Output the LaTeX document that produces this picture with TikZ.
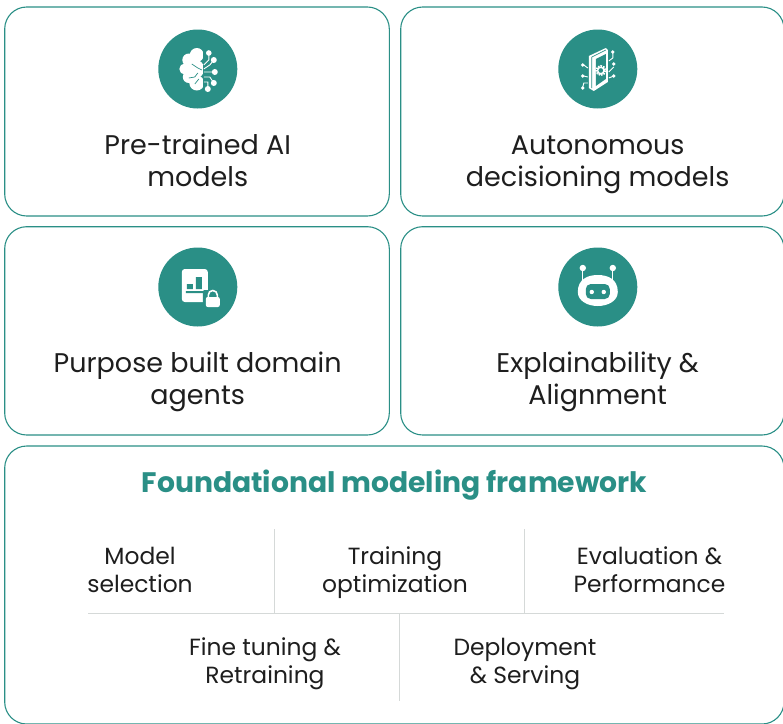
\documentclass[tikz,border=0pt]{standalone}
\usepackage{fontspec}
\setmainfont{Poppins}[BoldFont={Poppins Bold}]
\usepackage{tikz}
\usetikzlibrary{positioning}
\definecolor{tealmain}{HTML}{2A8F86}
\definecolor{ruleline}{HTML}{D5D9D8}
\definecolor{inktext}{HTML}{1E1E1E}

\begin{document}
\begin{tikzpicture}[x=1pt,y=-1pt,
			card/.style={draw=tealmain,line width=1.1pt,rounded corners=22pt,fill=white},
			badge/.style={circle,fill=tealmain,minimum size=79pt,inner sep=0pt},
			cardtext/.style={text=inktext,align=center,font=\fontsize{27}{32}\selectfont},
			itemtext/.style={text=inktext,align=center,font=\fontsize{23.4}{28}\selectfont},
			divider/.style={draw=ruleline,line width=1pt},
			trace/.style={draw=white,line width=.9pt}]
	\useasboundingbox (0,0) rectangle (783,723);
	\clip (0,0) rectangle (783,723);

%	cards
	\draw[card] (4.7,7) rectangle (389.3,216);
	\draw[card] (400.7,7) rectangle (784,216);
	\draw[card] (4.7,226.7) rectangle (389.3,435);
	\draw[card] (400.7,226.7) rectangle (784,435);
	\draw[card] (4.7,446) rectangle (784,724);

%	badges
	\node[badge] (brainbadge) at (197.8,69) {};
	\node[badge] (chipbadge) at (597.8,69) {};
	\node[badge] (docbadge) at (197.8,287) {};
	\node[badge] (botbadge) at (597.8,287) {};

%	card titles
	\node[cardtext] (pretrained) at (197.7,160) {Pre-trained AI\\models};
	\node[cardtext] (autonomous) at (597.7,165) {Autonomous\\decisioning models};
	\node[cardtext] (purpose) at (197.7,382) {Purpose built domain\\agents};
	\node[cardtext] (explain) at (597.7,382) {Explainability \&\\Alignment};
	\node[text=tealmain,font=\fontsize{28.2}{34}\selectfont\bfseries] (framework) at (394.5,485) {Foundational modeling framework};

%	framework items
	\node[itemtext] (selection) at (140,570) {Model\\selection};
	\node[itemtext] (training) at (395,573) {Training\\optimization};
	\node[itemtext] (evaluation) at (649.5,570) {Evaluation \&\\Performance};
	\node[itemtext] (tuning) at (265,664) {Fine tuning \&\\Retraining};
	\node[itemtext] (serving) at (525,664) {Deployment\\\& Serving};

%	dividers
	\coordinate (ruleleft) at (88,613.5);
	\coordinate (ruleright) at (724,613.5);
	\coordinate (topa) at (274.7,529);
	\coordinate (topb) at (524.7,529);
	\coordinate (mida) at (274.7,613.5);
	\coordinate (midb) at (524.7,613.5);
	\coordinate (midc) at (399.7,613.5);
	\coordinate (botc) at (399.7,701);
	\draw[divider] (ruleleft) -- (ruleright);
	\draw[divider] (topa) -- (mida);
	\draw[divider] (topb) -- (midb);
	\draw[divider] (midc) -- (botc);

%	brain icon
	\begin{scope}[shift={(brainbadge.center)}]
		\begin{scope}
			\clip (-20,-22) rectangle (5,23);
			\fill[white] (-1,-14) circle (7) (-9,-9) circle (6.5) (-13,0) circle (5.5) (-9,8) circle (6) (-1,14) circle (7.5) (-3,0) circle (9.5);
		\end{scope}
		\draw[tealmain,line width=.7pt] (-6,-5) -- (0,-1) -- (4,1) (-9,9) -- (-3,8) -- (0,4) (-3,15) -- (1,10);
		\draw[trace] (6,-4) -- (11,-9) -- (11,-15) (6,0) -- (12,-4) -- (16,-9) (6,3) -- (16,3) (6,8) -- (12,8) -- (16,14) (6,13) -- (10,13) -- (10,19);
		\fill[white] (11,-16) circle (2.8) (16,-9) circle (3) (17,3) circle (3) (16,14) circle (3) (10,20) circle (3);
	\end{scope}

%	chip icon
	\begin{scope}[shift={(chipbadge.center)}]
		\fill[white] (-9,-13) -- (8,-21) -- (10,-19) -- (10,13) -- (-4,22) -- (-9,19) -- cycle;
		\draw[tealmain,line width=.7pt] (-6,-12) -- (8,-19) (-6,-12) -- (-6,19);
		\fill[tealmain] (-2,-10) -- (8,-15) -- (8,10) -- (-2,17) -- cycle;
		\draw[white,line width=1.8pt,dash pattern=on 1.6pt off 1pt] (3,1.5) circle (4.6);
		\draw[white,line width=1.4pt] (3,1.5) circle (3.2);
		\draw[trace] (11,-8) -- (15,-11) -- (15,-16) (11,3) -- (16,-2) (11,9) -- (16,7) (-10,-1) -- (-14,-4) (-10,8) -- (-14,7) (-10,14) -- (-14,14) -- (-15,18);
		\fill[white] (15,-17) circle (1.9) (16,-5) circle (1.9) (16,7) circle (1.9) (-15,-4) circle (1.9) (-15,7) circle (1.9) (-15,19) circle (1.9);
	\end{scope}

%	document and lock icon
	\begin{scope}[shift={(docbadge.center)}]
		\fill[white,rounded corners=3pt] (-16,-18) rectangle (10,15);
		\fill[tealmain] (-11,-3) rectangle (-5,2) (-2,-10) rectangle (4,2) (-12,4) rectangle (6,6);
		\fill[tealmain,rounded corners=2pt] (5,3) rectangle (25,22);
		\draw[white,line width=1.6pt] (10.5,11) -- (10.5,8) arc[start angle=180,end angle=360,radius=4.5] -- (19.5,11);
		\fill[white,rounded corners=2pt] (8,10) rectangle (22,20);
	\end{scope}

%	robot icon
	\begin{scope}[shift={(botbadge.center)}]
		\draw[white,line width=1.1pt] (-15,-19) -- (-15,-3) (15,-19) -- (15,-3);
		\fill[white] (-15,-19) circle (3.2) (15,-19) circle (3.2);
		\fill[white] (-20,5) .. controls (-20,-8) and (-10,-12) .. (0,-12) .. controls (10,-12) and (20,-8) .. (20,5) .. controls (20,14) and (10,19) .. (0,19) .. controls (-10,19) and (-20,14) .. (-20,5) -- cycle;
		\fill[tealmain,rounded corners=5pt] (-12,-3) rectangle (12,12);
		\fill[white] (-6,5) circle (2.2) (6,5) circle (2.2);
	\end{scope}
\end{tikzpicture}
\end{document}
